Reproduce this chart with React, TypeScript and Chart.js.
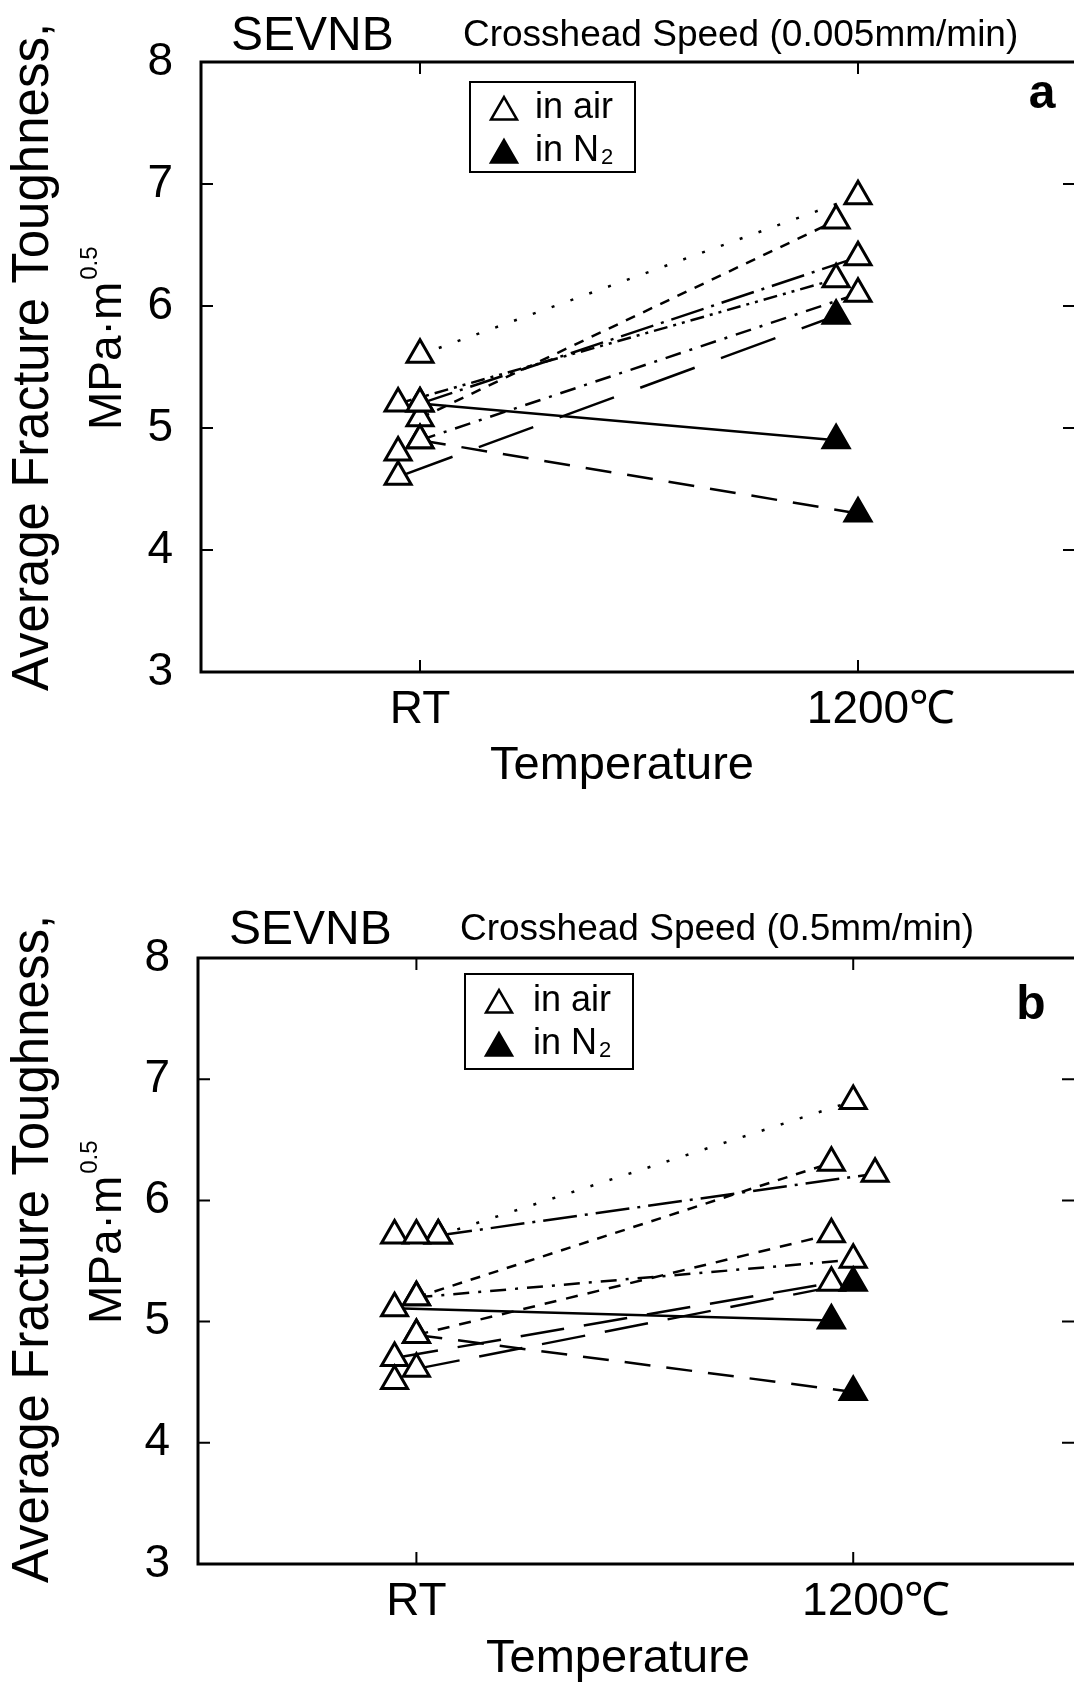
import React, { useEffect, useRef } from "react";
import { Chart, registerables } from "chart.js";

Chart.register(...registerables);

const FONT = '"Liberation Sans", Arial, Helvetica, sans-serif';

// ---------- shared axis data ----------
const xCategories = ["RT", "1200℃"];
const xTickValues = [1, 2];
const yTickValues = [3, 4, 5, 6, 7, 8];
const yTitleLine1 = "Average Fracture Toughness,";
const yTitleLine2 = "MPa·m";
const yTitleSup = "0.5";
const xTitle = "Temperature";
const legendAir = "in air";
const legendN2 = "in N";
const legendN2Sub = "2";

// ---------- panel a (0.005 mm/min) ----------
const aTitle = "SEVNB";
const aSubtitle = "Crosshead Speed (0.005mm/min)";
const aLetter = "a";
const aStartX = [1.0, 1.0, 1.0, 0.95, 1.0, 0.95, 1.0, 1.0];
const aStartY = [5.6, 5.08, 5.2, 5.2, 4.9, 4.6, 5.2, 4.9];
const aEndX = [2.0, 1.95, 2.0, 1.95, 2.0, 1.95, 1.95, 2.0];
const aEndY = [6.9, 6.7, 6.4, 6.22, 6.1, 5.92, 4.9, 4.3];
const aEndInN2 = [false, false, false, false, false, true, true, true];
const aSingleX = [0.95];
const aSingleY = [4.8];

// ---------- panel b (0.5 mm/min) ----------
const bTitle = "SEVNB";
const bSubtitle = "Crosshead Speed (0.5mm/min)";
const bLetter = "b";
const bStartX = [1.05, 1.05, 1.0, 1.0, 1.0, 0.95, 0.95, 1.0, 1.0];
const bStartY = [5.71, 5.71, 5.2, 5.2, 4.89, 5.11, 4.7, 4.61, 4.89];
const bEndX = [2.0, 2.05, 1.95, 2.0, 1.95, 1.95, 1.95, 2.0, 2.0];
const bEndY = [6.82, 6.22, 6.31, 5.51, 5.72, 5.01, 5.32, 5.32, 4.42];
const bEndInN2 = [false, false, false, false, false, true, false, true, true];
const bSingleX = [0.95, 1.0, 0.95];
const bSingleY = [5.71, 5.71, 4.51];

// ---------- line styles ----------
const aDashes = [[3, 17], [10, 9], [34, 8, 3, 8], [14, 6, 3, 6, 3, 6], [16, 9, 3, 9], [58, 28], [], [26, 16]];
const bDashes = [[3, 17], [34, 8, 3, 8], [10, 9], [16, 9, 3, 9], [12, 10], [], [44, 20], [44, 20], [26, 16]];

type Panel = {
  title: string; subtitle: string; letter: string;
  startX: number[]; startY: number[]; endX: number[]; endY: number[]; endN2: boolean[];
  singleX: number[]; singleY: number[]; dashes: number[][];
};

type Layout = {
  canvasW: number; canvasH: number; padTop: number; padRight: number; yWidth: number; xHeight: number;
  xMax: number;
  titleX: number; titleBase: number; subX: number; subBase: number;
  letterX: number; letterBase: number;
  legX: number; legY: number; legW: number; legH: number; legRow1: number; legRow2: number; legTriX: number; legTextX: number;
  yT1X: number; yT1Y: number; yT2X: number; yT2Start: number;
  xTitleX: number; xTitleY: number; xTickGap: number;
};

const panelA: Panel = {
  title: aTitle, subtitle: aSubtitle, letter: aLetter,
  startX: aStartX, startY: aStartY, endX: aEndX, endY: aEndY, endN2: aEndInN2,
  singleX: aSingleX, singleY: aSingleY, dashes: aDashes,
};
const panelB: Panel = {
  title: bTitle, subtitle: bSubtitle, letter: bLetter,
  startX: bStartX, startY: bStartY, endX: bEndX, endY: bEndY, endN2: bEndInN2,
  singleX: bSingleX, singleY: bSingleY, dashes: bDashes,
};

const layoutA: Layout = {
  canvasW: 1080, canvasH: 840, padTop: 62, padRight: 3, yWidth: 201, xHeight: 168, xMax: 2.5,
  titleX: 231, titleBase: 50, subX: 463, subBase: 46, letterX: 1042, letterBase: 108,
  legX: 470, legY: 82, legW: 165, legH: 90, legRow1: 108, legRow2: 151, legTriX: 504, legTextX: 535,
  yT1X: 34, yT1Y: 357, yT2X: 108, yT2Start: 430,
  xTitleX: 622, xTitleY: 766, xTickGap: 38,
};
const layoutB: Layout = {
  canvasW: 1080, canvasH: 848, padTop: 118, padRight: 4, yWidth: 198, xHeight: 124, xMax: 2.51,
  titleX: 229, titleBase: 104, subX: 460, subBase: 100, letterX: 1031, letterBase: 179,
  legX: 465, legY: 134, legW: 168, legH: 95, legRow1: 161, legRow2: 204, legTriX: 499, legTextX: 533,
  yT1X: 34, yT1Y: 409, yT2X: 108, yT2Start: 484,
  xTitleX: 618, xTitleY: 819, xTickGap: 38,
};

function triPath(ctx: CanvasRenderingContext2D, x: number, y: number, r: number) {
  ctx.beginPath();
  ctx.moveTo(x, y - r);
  ctx.lineTo(x + r * Math.sin((2 * Math.PI) / 3), y - r * Math.cos((2 * Math.PI) / 3));
  ctx.lineTo(x + r * Math.sin((4 * Math.PI) / 3), y - r * Math.cos((4 * Math.PI) / 3));
  ctx.closePath();
}

function makeDecor(p: Panel, L: Layout) {
  return {
    id: "decor",
    beforeDatasetsDraw(chart: any) {
      const { ctx, chartArea: a } = chart;
      const xs = chart.scales.x;
      const ys = chart.scales.y;
      ctx.save();
      ctx.strokeStyle = "#000";
      ctx.lineWidth = 3;
      ctx.strokeRect(a.left, a.top, a.right - a.left, a.bottom - a.top);
      ctx.lineWidth = 2;
      ctx.beginPath();
      const yMin = yTickValues[0];
      const yMax = yTickValues[yTickValues.length - 1];
      for (const v of yTickValues) {
        if (v === yMin || v === yMax) continue;
        const py = ys.getPixelForValue(v);
        ctx.moveTo(a.left, py); ctx.lineTo(a.left + 12, py);
        ctx.moveTo(a.right - 14, py); ctx.lineTo(a.right, py);
      }
      for (const v of xTickValues) {
        const px = xs.getPixelForValue(v);
        ctx.moveTo(px, a.bottom); ctx.lineTo(px, a.bottom - 12);
        ctx.moveTo(px, a.top); ctx.lineTo(px, a.top + 12);
      }
      ctx.stroke();
      ctx.restore();
    },
    afterDraw(chart: any) {
      const { ctx, chartArea: a } = chart;
      const xs = chart.scales.x;
      ctx.save();
      ctx.fillStyle = "#000";
      ctx.strokeStyle = "#000";
      // titles
      ctx.textAlign = "left";
      ctx.textBaseline = "alphabetic";
      ctx.font = `48px ${FONT}`;
      ctx.fillText(p.title, L.titleX, L.titleBase);
      ctx.font = `37px ${FONT}`;
      ctx.fillText(p.subtitle, L.subX, L.subBase);
      ctx.font = `bold 48px ${FONT}`;
      ctx.textAlign = "center";
      ctx.fillText(p.letter, L.letterX, L.letterBase);
      // legend
      ctx.lineWidth = 2;
      ctx.strokeRect(L.legX, L.legY, L.legW, L.legH);
      ctx.lineWidth = 2.5;
      triPath(ctx, L.legTriX, L.legRow1 + 4, 15);
      ctx.fillStyle = "#fff"; ctx.fill(); ctx.stroke();
      triPath(ctx, L.legTriX, L.legRow2 + 4, 15);
      ctx.fillStyle = "#000"; ctx.fill(); ctx.stroke();
      ctx.font = `36px ${FONT}`;
      ctx.textAlign = "left";
      ctx.textBaseline = "middle";
      ctx.fillText(legendAir, L.legTextX, L.legRow1);
      ctx.fillText(legendN2, L.legTextX, L.legRow2);
      const wN = ctx.measureText(legendN2).width;
      ctx.font = `22px ${FONT}`;
      ctx.fillText(legendN2Sub, L.legTextX + wN + 2, L.legRow2 + 7);
      // x tick labels (centred on numeric part)
      ctx.font = `46px ${FONT}`;
      ctx.textBaseline = "middle";
      ctx.textAlign = "left";
      xTickValues.forEach((v, i) => {
        const label = xCategories[i];
        const core = label.replace("℃", "");
        const px = xs.getPixelForValue(v);
        const w = ctx.measureText(core).width;
        ctx.fillText(label, px - w / 2, a.bottom + L.xTickGap);
      });
      // x title
      ctx.textAlign = "center";
      ctx.font = `47px ${FONT}`;
      ctx.fillText(xTitle, L.xTitleX, L.xTitleY);
      // y title line 1
      ctx.save();
      ctx.translate(L.yT1X, L.yT1Y);
      ctx.rotate(-Math.PI / 2);
      ctx.textAlign = "center";
      ctx.textBaseline = "middle";
      ctx.font = `51px ${FONT}`;
      ctx.fillText(yTitleLine1, 0, 0);
      ctx.restore();
      // y title line 2 with superscript
      ctx.save();
      ctx.translate(L.yT2X, L.yT2Start);
      ctx.rotate(-Math.PI / 2);
      ctx.textAlign = "left";
      ctx.textBaseline = "middle";
      ctx.font = `46px ${FONT}`;
      ctx.fillText(yTitleLine2, 0, 0);
      const w2 = ctx.measureText(yTitleLine2).width;
      ctx.font = `24px ${FONT}`;
      ctx.fillText(yTitleSup, w2 + 2, -18);
      ctx.restore();
      ctx.restore();
    },
  };
}

function PanelChart({ p, L }: { p: Panel; L: Layout }) {
  const ref = useRef<HTMLCanvasElement>(null);
  useEffect(() => {
    const canvas = ref.current;
    if (!canvas) return;
    const lineSets = p.startX.map((sx, i) => ({
      type: "line" as const,
      data: [{ x: sx, y: p.startY[i] }, { x: p.endX[i], y: p.endY[i] }],
      borderColor: "#000",
      borderWidth: 2.5,
      borderDash: p.dashes[i],
      pointRadius: 0,
      fill: false,
      tension: 0,
      order: 2,
    }));
    const openPts: { x: number; y: number }[] = [];
    const filledPts: { x: number; y: number }[] = [];
    p.startX.forEach((sx, i) => openPts.push({ x: sx, y: p.startY[i] }));
    p.endX.forEach((ex, i) => (p.endN2[i] ? filledPts : openPts).push({ x: ex, y: p.endY[i] }));
    p.singleX.forEach((sx, i) => openPts.push({ x: sx, y: p.singleY[i] }));
    const markerBase = {
      type: "scatter" as const,
      pointStyle: "triangle",
      pointRadius: 15,
      pointBorderColor: "#000",
      pointBorderWidth: 3,
      showLine: false,
    };
    const chart = new Chart(canvas, {
      type: "line",
      data: {
        datasets: [
          ...lineSets,
          { ...markerBase, data: openPts, pointBackgroundColor: "#fff", order: 1 },
          { ...markerBase, data: filledPts, pointBackgroundColor: "#000", order: 0 },
        ] as any,
      },
      options: {
        responsive: false,
        animation: false,
        devicePixelRatio: 1,
        events: [],
        layout: { autoPadding: false, padding: { top: L.padTop, left: 0, right: L.padRight, bottom: 0 } },
        plugins: { legend: { display: false }, tooltip: { enabled: false }, title: { display: false } },
        scales: {
          x: {
            type: "linear",
            min: 0.5,
            max: L.xMax,
            grid: { display: false, drawTicks: false },
            border: { display: false },
            ticks: { display: false },
            afterFit: (s: any) => { s.height = L.xHeight; },
            afterBuildTicks: (s: any) => { s.ticks = xTickValues.map((v) => ({ value: v })); },
          },
          y: {
            type: "linear",
            min: yTickValues[0],
            max: yTickValues[yTickValues.length - 1],
            grid: { display: false, drawTicks: false },
            border: { display: false },
            ticks: { color: "#000", padding: 28, font: { size: 46, family: FONT }, callback: (v: any) => String(v) },
            afterFit: (s: any) => { s.width = L.yWidth; },
            afterBuildTicks: (s: any) => { s.ticks = yTickValues.map((v) => ({ value: v })); },
          },
        },
      } as any,
      plugins: [makeDecor(p, L)],
    });
    return () => chart.destroy();
  }, [p, L]);
  return <canvas ref={ref} width={L.canvasW} height={L.canvasH} style={{ display: "block", width: L.canvasW, height: L.canvasH }} />;
}

export default function App() {
  return (
    <div style={{ position: "absolute", left: 0, top: 0, width: 1074, height: 1688, overflow: "hidden", background: "#fff" }}>
      <PanelChart p={panelA} L={layoutA} />
      <PanelChart p={panelB} L={layoutB} />
    </div>
  );
}
